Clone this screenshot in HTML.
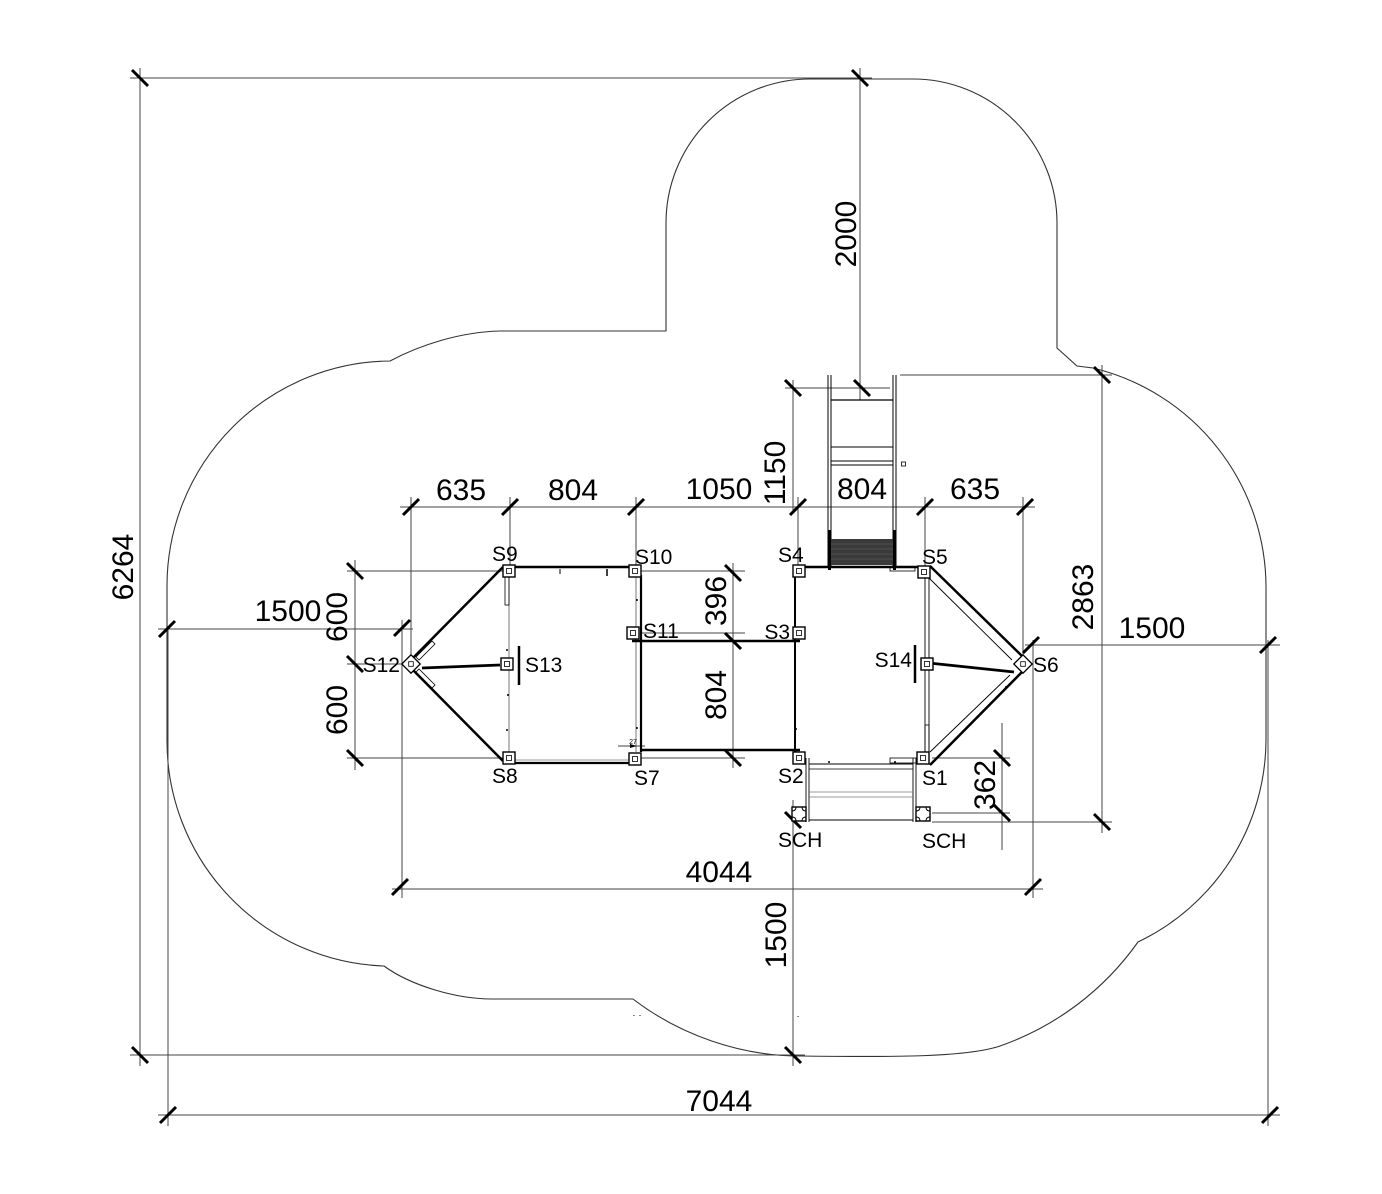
<!DOCTYPE html>
<html><head><meta charset="utf-8"><style>
html,body{margin:0;padding:0;background:#fff;}
svg{display:block;}
text{font-family:"Liberation Sans",Arial,sans-serif;fill:#000;}
.d{font-size:30px;}
.l{font-size:21px;}
</style></head><body>
<svg width="1382" height="1194" viewBox="0 0 1382 1194" xmlns="http://www.w3.org/2000/svg">
<defs>
<g id="bx"><rect x="-6" y="-6" width="12" height="12" fill="#fff" stroke="#000" stroke-width="1.4"/><rect x="-2.5" y="-2.5" width="5" height="5" fill="none" stroke="#000" stroke-width="0.8"/></g>
<g id="dm"><rect x="-6.5" y="-6.5" width="13" height="13" transform="rotate(45)" fill="#fff" stroke="#000" stroke-width="1.3"/><rect x="-2.3" y="-2.3" width="4.6" height="4.6" fill="none" stroke="#000" stroke-width="0.8"/></g>
<g id="sc"><rect x="-7" y="-7" width="14" height="14" fill="#fff" stroke="#000" stroke-width="1.4"/><path d="M-3,-7 Q-3,-3 -7,-3 M3,-7 Q3,-3 7,-3 M-3,7 Q-3,3 -7,3 M3,7 Q3,3 7,3" fill="none" stroke="#000" stroke-width="1"/></g>
</defs>

<!-- outline -->
<path d="M500,331 L666,331 L666,223 A144 144 0 0 1 810,79 L913,79 A144 144 0 0 1 1057,223 L1057,348 L1077,366 L1093,368 A226 226 0 0 1 1266,590 L1266,740 A225 225 0 0 1 1138,942 A284 284 0 0 1 1000,1046 C965,1058 880,1057 800,1056 C740,1056 680,1035 633,999 L492,999 C455,999 410,985 384,966 A225 225 0 0 1 167,740 L167,585 A225 225 0 0 1 390,361 C420,345 460,332 500,331 Z" fill="none" stroke="#333" stroke-width="1.1"/>

<!-- dimension lines -->
<g stroke="#444" stroke-width="1" fill="none">
<line x1="130" y1="78" x2="872" y2="78"/>
<line x1="140" y1="68" x2="140" y2="1066"/>
<line x1="130" y1="1055" x2="805" y2="1055"/>
<line x1="860" y1="68" x2="860" y2="400"/>
<line x1="785" y1="388" x2="890" y2="388"/>
<line x1="793" y1="380" x2="793" y2="512"/>
<line x1="400" y1="507" x2="1035" y2="507"/>
<line x1="411" y1="497" x2="411" y2="658"/>
<line x1="510" y1="497" x2="510" y2="566"/>
<line x1="636" y1="497" x2="636" y2="566"/>
<line x1="798" y1="497" x2="798" y2="566"/>
<line x1="925" y1="497" x2="925" y2="566"/>
<line x1="1023" y1="497" x2="1023" y2="656"/>
<line x1="355" y1="560" x2="355" y2="770"/>
<line x1="347" y1="571" x2="503" y2="571"/>
<line x1="347" y1="664" x2="405" y2="664"/>
<line x1="347" y1="758" x2="503" y2="758"/>
<line x1="158" y1="629" x2="413" y2="629"/>
<line x1="402" y1="620" x2="402" y2="898"/>
<line x1="392" y1="889" x2="1043" y2="889"/>
<line x1="1033" y1="640" x2="1033" y2="898"/>
<line x1="1025" y1="645" x2="1280" y2="645"/>
<line x1="168" y1="629" x2="168" y2="1126"/>
<line x1="1268" y1="640" x2="1268" y2="1126"/>
<line x1="158" y1="1115" x2="1280" y2="1115"/>
<line x1="733" y1="563" x2="733" y2="768"/>
<line x1="641" y1="571" x2="745" y2="571"/>
<line x1="641" y1="633" x2="745" y2="633"/>
<line x1="641" y1="758" x2="745" y2="758"/>
<line x1="900" y1="375" x2="1112" y2="375"/>
<line x1="1102" y1="365" x2="1102" y2="833"/>
<line x1="932" y1="822" x2="1112" y2="822"/>
<line x1="932" y1="813" x2="1010" y2="813"/>
<line x1="932" y1="758" x2="1010" y2="758"/>
<line x1="1002" y1="723" x2="1002" y2="850"/>
<line x1="793" y1="800" x2="793" y2="1066"/>
</g>

<!-- ticks -->
<g stroke="#000" stroke-width="3" stroke-linecap="butt">
<line x1="132" y1="70" x2="148" y2="86"/>
<line x1="132" y1="1047" x2="148" y2="1063"/>
<line x1="852" y1="70" x2="868" y2="86"/>
<line x1="854" y1="380" x2="870" y2="396"/>
<line x1="785" y1="380" x2="801" y2="396"/>
<line x1="403" y1="515" x2="419" y2="499"/>
<line x1="502" y1="515" x2="518" y2="499"/>
<line x1="628" y1="515" x2="644" y2="499"/>
<line x1="790" y1="515" x2="806" y2="499"/>
<line x1="917" y1="515" x2="933" y2="499"/>
<line x1="1017" y1="515" x2="1033" y2="499"/>
<line x1="347" y1="563" x2="363" y2="579"/>
<line x1="347" y1="656" x2="363" y2="672"/>
<line x1="347" y1="750" x2="363" y2="766"/>
<line x1="159" y1="637" x2="175" y2="621"/>
<line x1="394" y1="636" x2="410" y2="620"/>
<line x1="725" y1="565" x2="741" y2="581"/>
<line x1="725" y1="633" x2="741" y2="649"/>
<line x1="725" y1="750" x2="741" y2="766"/>
<line x1="1094" y1="367" x2="1110" y2="383"/>
<line x1="1094" y1="814" x2="1110" y2="830"/>
<line x1="1023" y1="653" x2="1039" y2="637"/>
<line x1="1260" y1="653" x2="1276" y2="637"/>
<line x1="994" y1="750" x2="1010" y2="766"/>
<line x1="994" y1="805" x2="1010" y2="821"/>
<line x1="392" y1="895" x2="408" y2="879"/>
<line x1="1025" y1="895" x2="1041" y2="879"/>
<line x1="785" y1="812" x2="801" y2="828"/>
<line x1="785" y1="1047" x2="801" y2="1063"/>
<line x1="160" y1="1123" x2="176" y2="1107"/>
<line x1="1262" y1="1123" x2="1278" y2="1107"/>
</g>

<!-- slide -->
<g stroke="#000" fill="none">
<line x1="828" y1="375" x2="828" y2="568" stroke-width="1"/>
<line x1="831" y1="375" x2="831" y2="568" stroke-width="1"/>
<line x1="893" y1="375" x2="893" y2="568" stroke-width="1"/>
<line x1="896" y1="375" x2="896" y2="568" stroke-width="1"/>
<line x1="831" y1="400" x2="893" y2="400" stroke-width="1.3"/>
<line x1="831" y1="447" x2="893" y2="447" stroke-width="1"/>
<line x1="831" y1="461" x2="893" y2="461" stroke-width="1"/>
<line x1="831" y1="465" x2="893" y2="465" stroke-width="1"/>
<line x1="829.5" y1="530" x2="829.5" y2="570" stroke-width="3"/>
<line x1="894.5" y1="530" x2="894.5" y2="570" stroke-width="3"/>
<rect x="901.5" y="462" width="4" height="4" stroke-width="0.8"/>
</g>
<rect x="831" y="539" width="62" height="26" fill="#3a3a3a"/>
<g stroke="#666" stroke-width="0.6">
<line x1="831" y1="544" x2="893" y2="544"/><line x1="831" y1="549" x2="893" y2="549"/><line x1="831" y1="554" x2="893" y2="554"/><line x1="831" y1="559" x2="893" y2="559"/>
</g>

<!-- structure -->
<g stroke="#000" fill="none">
<line x1="514" y1="567" x2="630" y2="567" stroke-width="2.5"/>
<line x1="805" y1="567" x2="920" y2="567" stroke-width="2.5"/>
<rect x="890" y="567" width="25" height="4" stroke-width="0.8"/>
<line x1="560" y1="569" x2="560" y2="574" stroke-width="1"/>
<line x1="607" y1="569" x2="607" y2="576" stroke-width="1.5"/>
<line x1="509" y1="577" x2="509" y2="752" stroke="#777" stroke-width="1"/>
<rect x="505" y="576" width="4" height="29" stroke-width="0.8"/>
<line x1="636" y1="577" x2="636" y2="752" stroke="#777" stroke-width="1"/>
<line x1="641" y1="575" x2="641" y2="752" stroke-width="2.2"/>
<line x1="632" y1="641" x2="800" y2="641" stroke-width="2.5"/>
<line x1="640" y1="750" x2="800" y2="750" stroke-width="2.5"/>
<line x1="514" y1="763" x2="630" y2="763" stroke-width="2.2"/>
<line x1="514" y1="760" x2="630" y2="760" stroke="#777" stroke-width="0.8"/>
<line x1="795" y1="577" x2="795" y2="752" stroke-width="2"/>
<line x1="925" y1="578" x2="925" y2="752" stroke-width="0.9"/>
<line x1="929" y1="578" x2="929" y2="752" stroke-width="0.9"/>
<rect x="925" y="725" width="4" height="27" stroke-width="0.8"/>
<line x1="503" y1="567" x2="413" y2="658" stroke-width="2.5"/>
<line x1="413" y1="670" x2="503" y2="761" stroke-width="2.5"/>
<path d="M416,657 L432,641 L435,644 L419,660 Z" stroke-width="0.8"/>
<path d="M416,672 L432,688 L435,685 L419,669 Z" stroke-width="0.8"/>
<line x1="422" y1="668" x2="500" y2="665" stroke-width="2.8"/>
<line x1="519" y1="646" x2="519" y2="685" stroke-width="2.5"/>
<line x1="930" y1="566" x2="1022" y2="656" stroke-width="2.5"/>
<line x1="929" y1="578" x2="1012" y2="660" stroke-width="0.9"/>
<line x1="1022" y1="672" x2="930" y2="765" stroke-width="2.5"/>
<line x1="1010" y1="675" x2="930" y2="752" stroke-width="0.9"/>
<line x1="929" y1="663" x2="1014" y2="672" stroke-width="2.8"/>
<line x1="915" y1="645" x2="915" y2="683" stroke-width="2.5"/>
<line x1="806" y1="758" x2="806" y2="822" stroke-width="0.9"/>
<line x1="809" y1="758" x2="809" y2="822" stroke-width="0.9"/>
<line x1="913" y1="758" x2="913" y2="822" stroke-width="0.9"/>
<line x1="916" y1="758" x2="916" y2="822" stroke-width="0.9"/>
<line x1="809" y1="764" x2="913" y2="764" stroke-width="1"/>
<line x1="809" y1="769" x2="913" y2="769" stroke-width="0.8"/>
<line x1="809" y1="792" x2="913" y2="792" stroke="#777" stroke-width="0.8"/>
<line x1="809" y1="797" x2="913" y2="797" stroke="#777" stroke-width="0.8"/>
<line x1="809" y1="820" x2="913" y2="820" stroke-width="1"/>
<rect x="890" y="758" width="27" height="5" stroke-width="0.8"/>
<line x1="618" y1="746" x2="645" y2="746" stroke-width="0.8"/>
<path d="M630,744 L637,746 L630,748 Z" fill="#000" stroke="none"/>
</g>
<text x="633" y="744" font-size="7" text-anchor="middle">27</text>

<!-- small dots -->
<g fill="#000">
<circle cx="507" cy="650" r="1"/><circle cx="507" cy="730" r="1"/><circle cx="637" cy="600" r="1"/><circle cx="637" cy="728" r="1"/>
<circle cx="796" cy="729" r="1"/><circle cx="829" cy="762" r="1"/><circle cx="895" cy="762" r="1"/>
<circle cx="1006" cy="687" r="1"/><circle cx="508" cy="695" r="1"/>
</g>
<g fill="#888"><rect x="633" y="1015" width="2" height="1"/><rect x="639" y="1015" width="2" height="1"/><rect x="797" y="1016" width="2" height="1"/></g>

<!-- nodes -->
<use href="#bx" x="509" y="571"/>
<use href="#bx" x="635" y="571"/>
<use href="#bx" x="799" y="571"/>
<use href="#bx" x="924" y="572"/>
<use href="#bx" x="633" y="633"/>
<use href="#bx" x="799" y="633"/>
<use href="#bx" x="507" y="664"/>
<use href="#bx" x="927" y="664"/>
<use href="#bx" x="509" y="758"/>
<use href="#bx" x="635" y="759"/>
<use href="#bx" x="799" y="758"/>
<use href="#bx" x="923" y="758"/>
<use href="#dm" x="411" y="664"/>
<use href="#dm" x="1023" y="664"/>
<use href="#sc" x="799" y="814"/>
<use href="#sc" x="923" y="814"/>

<!-- labels -->
<g class="l">
<text x="492" y="561">S9</text>
<text x="635" y="564">S10</text>
<text x="643" y="638">S11</text>
<text x="400" y="672" text-anchor="end">S12</text>
<text x="525" y="672">S13</text>
<text x="492" y="783">S8</text>
<text x="634" y="785">S7</text>
<text x="790" y="639" text-anchor="end">S3</text>
<text x="778" y="562">S4</text>
<text x="922" y="564">S5</text>
<text x="912" y="667" text-anchor="end">S14</text>
<text x="1033" y="672">S6</text>
<text x="778" y="783">S2</text>
<text x="922" y="785">S1</text>
<text x="778" y="847">SCH</text>
<text x="922" y="848">SCH</text>
</g>

<!-- dimension texts -->
<g class="d">
<text x="461" y="500" text-anchor="middle">635</text>
<text x="573" y="500" text-anchor="middle">804</text>
<text x="719" y="499" text-anchor="middle">1050</text>
<text x="862" y="499" text-anchor="middle">804</text>
<text x="975" y="499" text-anchor="middle">635</text>
<text x="288" y="621" text-anchor="middle">1500</text>
<text x="1152" y="638" text-anchor="middle">1500</text>
<text x="719" y="882" text-anchor="middle">4044</text>
<text x="719" y="1111" text-anchor="middle">7044</text>
<text transform="translate(785,473) rotate(-90)" text-anchor="middle">1150</text>
<text transform="translate(856,234) rotate(-90)" text-anchor="middle">2000</text>
<text transform="translate(133,567) rotate(-90)" text-anchor="middle">6264</text>
<text transform="translate(347,617) rotate(-90)" text-anchor="middle">600</text>
<text transform="translate(347,710) rotate(-90)" text-anchor="middle">600</text>
<text transform="translate(726,601) rotate(-90)" text-anchor="middle">396</text>
<text transform="translate(726,695) rotate(-90)" text-anchor="middle">804</text>
<text transform="translate(1093,597) rotate(-90)" text-anchor="middle">2863</text>
<text transform="translate(995,785) rotate(-90)" text-anchor="middle">362</text>
<text transform="translate(786,935) rotate(-90)" text-anchor="middle">1500</text>
</g>
</svg></body></html>
